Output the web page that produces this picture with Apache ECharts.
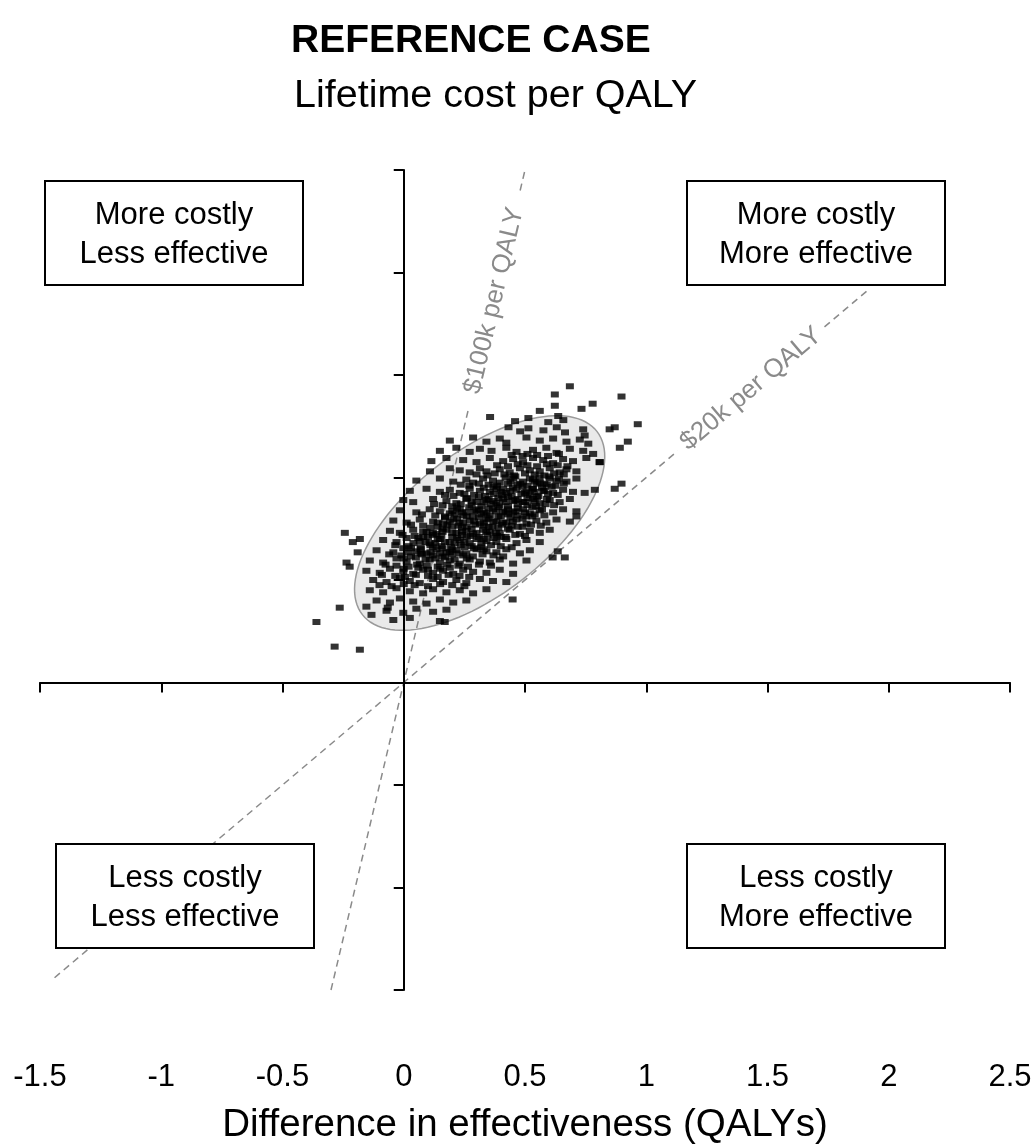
<!DOCTYPE html>
<html><head><meta charset="utf-8">
<script src="https://cdn.jsdelivr.net/npm/echarts@6/dist/echarts.min.js"></script>
<style>html,body{margin:0;padding:0;background:#fff}#c{width:1035px;height:1145px}</style>
</head><body><div id="c"></div>
<script>
const FONT = '"Liberation Sans", Arial, sans-serif';
const titleText = 'REFERENCE CASE';
const subtitleText = 'Lifetime cost per QALY';
const xAxisTitle = 'Difference in effectiveness (QALYs)';
const xRange = [-1.5, 2.5];
const xStep = 0.5;
const yRange = [-30, 50];      // incremental cost, $ thousands
const yStep = 10;
const quadrantLabels = ['More costly\nLess effective', 'More costly\nMore effective', 'Less costly\nLess effective', 'Less costly\nMore effective'];
const wtpLabels = ['$100k per QALY', '$20k per QALY'];
const wtpRatios = [100, 20];            // $k per QALY
const wtpXRange = [[-0.30, 0.50], [-1.44, 1.91]];
const wtpLabelGap = [[0.265, 0.48], [1.13, 1.735]];
const ellipseCenter = [0.313, 15.56];
const ellipseAxisA = [0.4835, 8.94];
const ellipseAxisB = [0.180, -5.45];
const simulations = [
[0.356,25.9],[0.459,25.5],[0.514,25.8],[0.596,25.4],[0.637,26.0],[0.658,25.6],
[0.432,24.9],[0.480,24.5],[0.514,24.8],[0.576,24.6],[0.631,24.9],[0.665,24.4],[0.740,24.7],
[0.190,23.6],[0.286,23.9],[0.341,23.5],[0.396,23.8],[0.423,23.4],[0.506,23.9],[0.561,23.6],[0.616,23.8],[0.671,23.5],[0.726,23.7],[0.761,23.3],
[0.149,22.6],[0.217,22.9],[0.272,22.5],[0.314,22.8],[0.362,22.6],[0.423,22.9],[0.465,22.5],[0.533,22.7],[0.588,22.9],[0.630,22.4],[0.685,22.8],[0.740,22.6],[0.781,22.3],
[0.114,21.6],[0.176,21.9],[0.245,21.7],[0.300,21.5],[0.355,21.9],[0.410,21.6],[0.451,21.8],[0.492,21.5],[0.533,21.9],[0.575,21.7],[0.616,21.4],[0.657,21.8],[0.698,21.6],[0.753,21.9],[0.808,21.5],
[0.108,20.6],[0.190,20.9],[0.231,20.7],[0.272,20.5],[0.314,20.9],[0.341,20.6],[0.396,20.8],[0.437,20.5],[0.479,20.9],[0.520,20.7],[0.561,20.6],[0.602,20.9],[0.643,20.5],[0.671,20.8],[0.712,20.6],
[0.052,19.7],[0.149,19.9],[0.204,19.6],[0.258,19.8],[0.286,19.5],[0.327,19.9],[0.368,19.7],[0.396,19.5],[0.451,19.9],[0.492,19.6],[0.533,19.8],[0.561,19.5],[0.602,19.9],[0.630,19.7],[0.671,19.6],[0.712,19.9],
[0.025,18.7],[0.094,18.9],[0.149,18.6],[0.190,18.8],[0.231,18.5],[0.272,18.9],[0.314,18.7],[0.355,18.6],[0.382,18.9],[0.423,18.5],[0.465,18.8],[0.506,18.6],[0.533,18.9],[0.575,18.7],[0.616,18.5],[0.657,18.8],[0.698,18.6],
[-0.002,17.8],[0.039,17.6],[0.121,17.9],[0.176,17.7],[0.217,17.5],[0.258,17.9],[0.300,17.6],[0.341,17.8],[0.382,17.5],[0.410,17.9],[0.451,17.7],[0.492,17.6],[0.533,17.9],[0.561,17.5],[0.602,17.8],[0.643,17.6],[0.685,17.9],
[-0.016,16.8],[0.052,16.6],[0.107,16.9],[0.149,16.7],[0.190,16.5],[0.231,16.9],[0.258,16.6],[0.300,16.8],[0.341,16.5],[0.368,16.9],[0.410,16.7],[0.451,16.6],[0.492,16.9],[0.520,16.5],[0.561,16.8],[0.616,16.6],[0.657,16.9],[0.712,16.7],
[-0.043,15.8],[0.012,15.6],[0.066,15.9],[0.121,15.7],[0.162,15.5],[0.204,15.9],[0.245,15.6],[0.272,15.8],[0.314,15.5],[0.341,15.9],[0.382,15.7],[0.423,15.6],[0.465,15.9],[0.506,15.5],[0.547,15.8],[0.588,15.6],[0.630,15.9],[0.685,15.7],
[-0.057,14.8],[-0.016,14.6],[0.039,14.9],[0.094,14.7],[0.135,14.5],[0.176,14.9],[0.217,14.6],[0.258,14.8],[0.286,14.5],[0.327,14.9],[0.355,14.7],[0.396,14.6],[0.437,14.9],[0.479,14.5],[0.520,14.8],[0.561,14.6],[0.602,14.9],
[-0.085,13.9],[-0.030,13.7],[0.012,14.1],[0.066,13.8],[0.107,13.6],[0.149,14.0],[0.190,13.7],[0.231,13.9],[0.272,13.6],[0.300,14.0],[0.341,13.8],[0.382,13.7],[0.423,14.0],[0.465,13.6],[0.506,13.9],[0.561,13.7],
[-0.112,12.9],[-0.043,12.7],[-0.002,13.1],[0.052,12.8],[0.094,12.6],[0.135,13.0],[0.176,12.7],[0.217,12.9],[0.258,12.6],[0.300,13.0],[0.341,12.8],[0.382,12.7],[0.423,13.0],[0.479,12.6],[0.520,12.9],
[-0.140,11.9],[-0.085,11.7],[-0.030,12.1],[0.012,11.8],[0.066,11.6],[0.107,12.0],[0.149,11.7],[0.190,11.9],[0.231,11.6],[0.272,12.0],[0.314,11.8],[0.355,11.7],[0.396,12.0],[0.451,11.6],[0.506,11.9],
[-0.154,10.9],[-0.099,10.7],[-0.057,11.1],[-0.002,10.8],[0.039,10.6],[0.080,11.0],[0.121,10.7],[0.162,10.9],[0.204,10.6],[0.245,11.0],[0.286,10.8],[0.341,10.7],[0.396,11.0],[0.451,10.6],
[-0.126,10.0],[-0.071,9.8],[-0.016,10.2],[0.025,9.9],[0.066,9.7],[0.121,10.1],[0.162,9.8],[0.217,10.0],[0.258,9.7],[0.314,10.1],[0.368,9.9],[0.423,9.8],
[-0.140,9.0],[-0.085,8.8],[-0.030,9.2],[0.025,8.9],[0.080,8.7],[0.121,9.1],[0.176,8.8],[0.231,9.0],[0.286,8.7],[0.341,9.1],
[-0.112,8.0],[-0.057,7.8],[-0.016,8.2],[0.039,7.9],[0.094,7.7],[0.149,8.1],[0.204,7.8],[0.258,8.0],
[-0.071,7.0],[-0.002,6.8],[0.052,7.2],[0.121,6.9],[0.176,7.1],
[-0.043,6.1],[0.025,6.3],[0.149,6.0],
[0.685,28.9],[0.623,28.1],[0.898,27.9],[0.623,27.0],[0.779,27.2],[0.733,26.7],[0.561,26.5],[0.965,25.2],[0.849,24.7],[0.870,24.9],
[0.746,24.1],[0.924,23.5],[0.891,22.9],[0.808,21.5],[0.898,19.4],[0.870,18.9],[0.788,18.8],[0.746,18.5],[0.712,16.2],[0.635,12.8],
[0.664,12.2],[0.614,12.2],[0.449,8.1],[-0.243,14.6],[-0.210,13.7],[-0.181,14.0],[-0.236,11.7],[-0.223,11.3],[-0.190,12.7],[-0.264,7.3],
[-0.360,5.9],[-0.285,3.5],[-0.181,3.2],[0.169,5.9],[-0.133,6.6],[-0.154,7.4],[-0.066,7.3],
[0.445,22.2],[0.490,22.1],[0.510,22.3],[0.550,22.2],[0.595,22.1],[0.640,22.3],
[0.385,21.2],[0.430,21.1],[0.470,21.3],[0.510,21.2],[0.550,21.1],[0.590,21.3],[0.635,21.2],[0.675,21.1],
[0.300,20.3],[0.345,20.2],[0.375,20.4],[0.415,20.3],[0.455,20.2],[0.500,20.4],[0.540,20.3],[0.580,20.2],[0.620,20.4],[0.660,20.3],
[0.235,19.3],[0.270,19.2],[0.310,19.4],[0.350,19.3],[0.385,19.2],[0.430,19.4],[0.470,19.3],[0.510,19.2],[0.550,19.4],[0.590,19.3],[0.625,19.2],[0.660,19.4],
[0.170,18.3],[0.205,18.2],[0.250,18.4],[0.290,18.3],[0.335,18.2],[0.370,18.4],[0.405,18.3],[0.445,18.2],[0.485,18.4],[0.520,18.3],[0.555,18.2],[0.595,18.4],[0.635,18.3],
[0.125,17.4],[0.160,17.3],[0.200,17.2],[0.235,17.4],[0.280,17.3],[0.320,17.2],[0.360,17.4],[0.395,17.3],[0.430,17.2],[0.470,17.4],[0.510,17.3],[0.545,17.2],[0.585,17.4],[0.620,17.3],
[0.075,16.4],[0.130,16.3],[0.170,16.2],[0.210,16.4],[0.245,16.3],[0.285,16.2],[0.320,16.4],[0.355,16.3],[0.390,16.2],[0.430,16.4],[0.470,16.3],[0.505,16.2],[0.540,16.4],[0.580,16.3],
[0.030,15.4],[0.080,15.3],[0.140,15.2],[0.180,15.4],[0.225,15.3],[0.260,15.2],[0.295,15.4],[0.330,15.3],[0.365,15.2],[0.405,15.4],[0.445,15.3],[0.490,15.2],[0.525,15.4],[0.565,15.3],
[-0.005,14.4],[0.045,14.3],[0.080,14.2],[0.120,14.4],[0.155,14.3],[0.200,14.2],[0.240,14.4],[0.275,14.3],[0.310,14.2],[0.345,14.4],[0.385,14.3],[0.420,14.2],[0.460,14.4],[0.500,14.3],
[-0.035,13.4],[0.020,13.3],[0.070,13.2],[0.110,13.4],[0.155,13.3],[0.195,13.2],[0.235,13.4],[0.280,13.3],[0.320,13.2],[0.360,13.4],[0.400,13.3],[0.445,13.2],
[-0.060,12.5],[-0.010,12.4],[0.030,12.3],[0.075,12.5],[0.120,12.4],[0.160,12.3],[0.200,12.5],[0.245,12.4],[0.285,12.3],[0.325,12.5],[0.370,12.4],[0.410,12.3],
[-0.075,11.5],[-0.030,11.4],[0.020,11.3],[0.055,11.5],[0.095,11.4],[0.140,11.3],[0.180,11.5],[0.225,11.4],[0.265,11.3],[0.310,11.5],[0.360,11.4],
[-0.090,10.5],[-0.035,10.4],[0.005,10.3],[0.050,10.5],[0.100,10.4],[0.140,10.3],[0.185,10.5],[0.230,10.4],[0.270,10.3],
[-0.100,9.5],[-0.050,9.4],[0.000,9.6],[0.045,9.5],[0.100,9.4],[0.150,9.6],[0.200,9.5],[0.250,9.4],
[0.42,20.0],[0.46,20.1],[0.52,19.9],[0.56,20.0],[0.60,20.1],[0.64,19.9],
[0.33,19.0],[0.37,19.1],[0.41,18.9],[0.45,19.0],[0.49,19.1],[0.53,18.9],[0.57,19.0],[0.61,19.1],
[0.26,18.0],[0.31,18.1],[0.35,17.9],[0.39,18.0],[0.43,18.1],[0.47,17.9],[0.51,18.0],[0.55,18.1],[0.59,17.9],
[0.22,17.0],[0.27,17.1],[0.31,16.9],[0.35,17.0],[0.39,17.1],[0.43,16.9],[0.47,17.0],[0.53,17.1],[0.57,16.9],
[0.17,16.1],[0.22,16.0],[0.26,16.2],[0.31,16.1],[0.35,16.0],[0.40,16.2],[0.44,16.1],[0.49,16.0],[0.53,16.2],
[0.11,15.1],[0.16,15.0],[0.20,15.2],[0.24,15.1],[0.28,15.0],[0.35,15.2],[0.39,15.1],[0.43,15.0],[0.47,15.2],
[0.06,14.1],[0.10,14.2],[0.14,14.0],[0.22,14.1],[0.26,14.2],[0.33,14.0],[0.37,14.1],[0.40,14.2],
[0.03,13.1],[0.07,13.0],[0.12,13.2],[0.16,13.1],[0.20,13.0],[0.25,13.2],[0.29,13.1],[0.33,13.0],
[0.00,12.1],[0.05,12.2],[0.09,12.0],[0.13,12.1],[0.17,12.2],[0.21,12.0],[0.26,12.1],
[0.00,11.1],[0.06,11.2],[0.10,11.0],[0.15,11.1],[0.19,11.2],
[0.44,19.6],[0.48,19.4],[0.54,19.6],[0.58,19.4],[0.40,18.6],[0.44,18.7],[0.50,18.5],[0.54,18.6],[0.58,18.7],
[0.28,17.7],[0.33,17.6],[0.37,17.7],[0.42,17.6],[0.46,17.8],[0.50,17.6],[0.54,17.7],
[0.20,16.7],[0.24,16.6],[0.29,16.7],[0.33,16.6],[0.38,16.7],[0.42,16.6],[0.46,16.7],[0.50,16.6],
[0.14,15.6],[0.19,15.7],[0.23,15.6],[0.29,15.7],[0.33,15.6],[0.37,15.7],[0.41,15.6],[0.45,15.7],
[0.08,14.7],[0.12,14.6],[0.16,14.7],[0.20,14.6],[0.24,14.7],[0.30,14.6],[0.34,14.7],[0.38,14.6],
[0.04,13.6],[0.09,13.7],[0.13,13.6],[0.17,13.7],[0.21,13.6],[0.25,13.7],[0.32,13.6],
[0.02,12.7],[0.07,12.6],[0.11,12.7],[0.15,12.6],[0.19,12.7],[0.23,12.6]
];

const chart = echarts.init(document.getElementById('c'), null, {renderer: 'canvas'});

function ellipseItem(params, api) {
  const pts = [];
  for (let k = 0; k < 120; k++) {
    const t = k / 120 * Math.PI * 2;
    const x = ellipseCenter[0] + Math.cos(t) * ellipseAxisA[0] + Math.sin(t) * ellipseAxisB[0];
    const y = ellipseCenter[1] + Math.cos(t) * ellipseAxisA[1] + Math.sin(t) * ellipseAxisB[1];
    pts.push(api.coord([x, y]));
  }
  return {type: 'polygon', shape: {points: pts}, style: {fill: '#e9e9e9', stroke: '#9a9a9a', lineWidth: 1.5}};
}

function wtpItem(params, api) {
  const i = params.dataIndex;
  const r = wtpRatios[i];
  const c = v => api.coord([v, r * v]);
  const p0 = c(wtpXRange[i][0]), p1 = c(wtpLabelGap[i][0]), p2 = c(wtpLabelGap[i][1]), p3 = c(wtpXRange[i][1]);
  const mid = c((wtpLabelGap[i][0] + wtpLabelGap[i][1]) / 2);
  const ang = Math.atan2(-(p3[1] - p0[1]), p3[0] - p0[0]);
  const ls = {stroke: '#8a8a8a', lineWidth: 1.5, lineDash: [7, 5]};
  return {type: 'group', children: [
    {type: 'line', shape: {x1: p0[0], y1: p0[1], x2: p1[0], y2: p1[1]}, style: ls},
    {type: 'line', shape: {x1: p2[0], y1: p2[1], x2: p3[0], y2: p3[1]}, style: ls},
    {type: 'text', x: mid[0], y: mid[1], rotation: ang,
     style: {text: wtpLabels[i], fill: '#8a8a8a', font: '26px ' + FONT, align: 'center', verticalAlign: 'middle'}}
  ]};
}

const boxes = [[45, 181], [687, 181], [56, 844], [687, 844]];
const boxW = 258, boxH = 104;
const graphics = quadrantLabels.map((t, i) => ({
  type: 'group', x: boxes[i][0], y: boxes[i][1], z: 100, zlevel: 0,
  children: [
    {type: 'rect', z: 100, shape: {x: 0, y: 0, width: boxW, height: boxH}, style: {fill: '#fff', stroke: '#000', lineWidth: 2}},
    {type: 'text', z: 101, x: boxW / 2, y: boxH / 2 + 2, style: {text: t, fill: '#000', font: '31px ' + FONT, align: 'center', verticalAlign: 'middle', lineHeight: 39}}
  ]
}));

chart.setOption({
  animation: false,
  backgroundColor: '#fff',
  title: [
    {text: titleText, left: 286, top: 17, textStyle: {fontFamily: FONT, fontSize: 39, fontWeight: 'bold', color: '#000'}},
    {text: subtitleText, left: 289, top: 71, textStyle: {fontFamily: FONT, fontSize: 39.5, fontWeight: 'normal', color: '#000'}}
  ],
  grid: {left: 40, right: 25, top: 170, bottom: 155, containLabel: false, outerBoundsMode: 'none'},
  xAxis: [
    {type: 'value', min: xRange[0], max: xRange[1], interval: xStep, z: 5,
     axisLine: {onZero: true, lineStyle: {color: '#000', width: 2}},
     axisTick: {show: true, length: 10, lineStyle: {color: '#000', width: 2}},
     axisLabel: {show: false}, splitLine: {show: false}},
    {type: 'value', min: xRange[0], max: xRange[1], interval: xStep, position: 'bottom',
     axisLine: {show: false, onZero: false}, axisTick: {show: false}, splitLine: {show: false},
     axisLabel: {show: true, margin: 72, fontFamily: FONT, fontSize: 31, color: '#000'},
     name: xAxisTitle, nameLocation: 'middle', nameGap: 135,
     nameTextStyle: {fontFamily: FONT, fontSize: 38.5, color: '#000', verticalAlign: 'middle'}}
  ],
  yAxis: {type: 'value', min: yRange[0], max: yRange[1], interval: yStep, z: 5,
    axisLine: {onZero: true, onZeroAxisIndex: 0, lineStyle: {color: '#000', width: 2}},
    axisTick: {show: true, length: 10, lineStyle: {color: '#000', width: 2}},
    axisLabel: {show: false}, splitLine: {show: false}},
  graphic: {elements: graphics},
  series: [
    {type: 'custom', xAxisIndex: 0, yAxisIndex: 0, z: 1, renderItem: ellipseItem, data: [ellipseCenter], silent: true},
    {type: 'custom', xAxisIndex: 0, yAxisIndex: 0, z: 2, renderItem: wtpItem,
     data: wtpRatios.map((r, i) => [wtpXRange[i][0], r * wtpXRange[i][0]]), silent: true},
    {type: 'scatter', xAxisIndex: 0, yAxisIndex: 0, z: 3, symbol: 'rect', symbolSize: [8, 6],
     itemStyle: {color: '#000'}, data: simulations}
  ]
});
</script></body></html>
